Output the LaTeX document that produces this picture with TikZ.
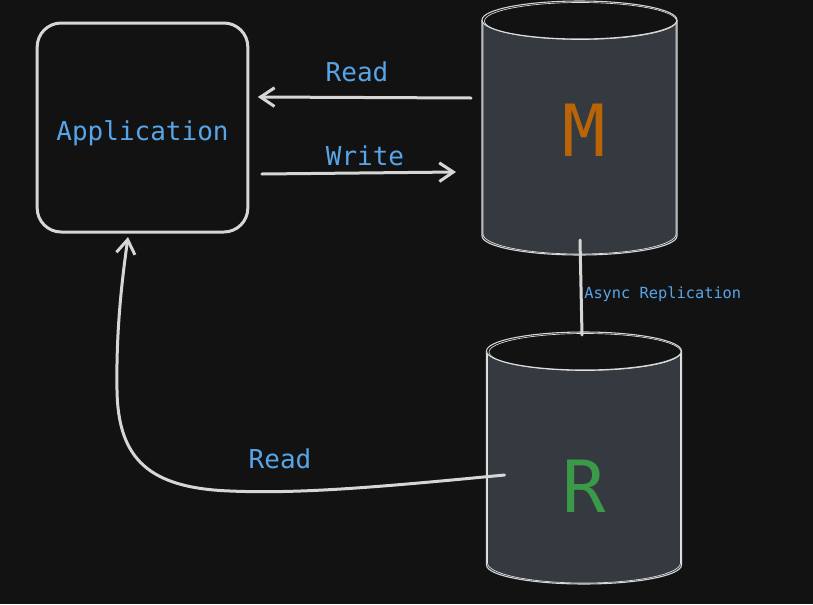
\documentclass[tikz,border=0pt]{standalone}
\usepackage{fontspec}
\setmonofont{DejaVu Sans Mono}
\usetikzlibrary{arrows.meta,calc}

\definecolor{canvas}{HTML}{121212}
\definecolor{inkline}{HTML}{D6D6D6}
\definecolor{dbgray}{HTML}{343A40}
\definecolor{txtblue}{HTML}{57A5E8}
\definecolor{morange}{HTML}{BA6408}
\definecolor{rgreen}{HTML}{3A9A48}

\tikzset{
    appbox/.style={draw=inkline, line width=2.25pt, rounded corners=18pt,
        minimum width=158pt, minimum height=156.75pt, inner sep=0pt, outer sep=0pt},
    dbstore/.style={minimum width=146.25pt, minimum height=190.5pt, inner sep=0pt, outer sep=0pt},
    dbedge/.style={draw=inkline, line width=0.8pt},
    dbsketch/.style={draw=inkline!70, line width=0.5pt},
    link/.style={draw=inkline, line width=2.25pt, line cap=round, line join=round},
    flow/.style={link, -{Straight Barb[length=10.5pt,width=14pt,line width=2.25pt]}},
    lbl/.style={text=txtblue, font=\ttfamily\fontsize{19.5pt}{22pt}\selectfont, inner sep=0pt},
    small/.style={text=txtblue, font=\ttfamily\fontsize{11.5pt}{13pt}\selectfont, inner sep=0pt},
    big/.style={font=\ttfamily\fontsize{54pt}{60pt}\selectfont, inner sep=0pt}
}

\begin{document}
\begin{tikzpicture}[x=0.75pt, y=-0.75pt]
    % background and page size
    \fill[canvas] (0,0) rectangle (813,604);
    \useasboundingbox (0,0) rectangle (813,604);

    % the application box
    \node[appbox, lbl, text height=18.75pt, text depth=0pt] (app) at (142.5,127.5) {Application};

    % master and replica stores
    \node[dbstore] (M) at (579.5,128) {};
    \node[dbstore] (R) at (584,458) {};
    \foreach \cx/\yt/\yb in {579.5/20/236, 584/351/565}{
        % body
        \fill[dbgray] (\cx-97.5,\yt) -- (\cx-97.5,\yb)
            arc[start angle=180, end angle=0, x radius=97.5, y radius=19]
            -- (\cx+97.5,\yt) -- cycle;
        \draw[dbedge] (\cx-97.5,\yt) -- (\cx-97.5,\yb)
            arc[start angle=180, end angle=0, x radius=97.5, y radius=19] -- (\cx+97.5,\yt);
        \draw[dbsketch] (\cx-96.5,\yt+3) -- (\cx-96.5,\yb-2)
            arc[start angle=180, end angle=0, x radius=96.5, y radius=20] -- (\cx+96.5,\yt+2);
        % top lid
        \draw[dbedge, fill=canvas] (\cx,\yt) ellipse[x radius=97.5, y radius=19];
        \draw[dbsketch] (\cx+1,\yt+1) ellipse[x radius=96, y radius=18.5];
    }
    \node[big, text=morange, anchor=base] (mtext) at (584,156) {M};
    \node[big, text=rgreen, anchor=base] (rtext) at (584,512) {R};

    % read and write between application and master
    \draw[flow] ($(M.west)+(-11,-30)$) -- ($(app.east)+(10,-30.5)$);
    \draw[flow] ($(app.east)+(14,46.5)$) -- ($(M.west)+(-26,44)$);
    \node[lbl, anchor=base] (readm) at (357,81) {Read};
    \node[lbl, anchor=base] (writem) at (365,165) {Write};

    % replication from master to replica
    \draw[link] ($(M.south)+(0.5,-15)$) -- ($(R.north)+(-2,4)$);
    \node[small, anchor=west] (async) at (584,294) {Async Replication};

    % read from replica back to the application
    \draw[flow] ($(R.west)+(18,17)$) .. controls (380,487) and (300,494) .. (230,491)
        .. controls (150,488) and (118,460) .. (117,390)
        .. controls (116,330) and (122,280) .. ($(app.south)+(-14.5,5)$);
    \node[lbl, anchor=base] (readr) at (280,468) {Read};
\end{tikzpicture}
\end{document}
